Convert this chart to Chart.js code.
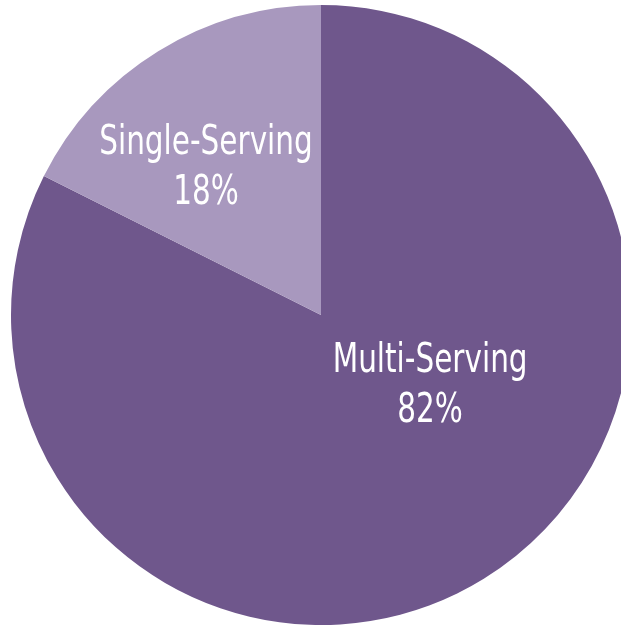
<!DOCTYPE html>
<html>
<head>
<meta charset="utf-8">
<script src="https://cdn.jsdelivr.net/npm/chart.js@4/dist/chart.umd.min.js"></script>
<style>
  html, body { margin: 0; padding: 0; background: #fff; overflow: hidden; }
  #wrap { position: absolute; left: 0; top: 0; width: 642px; height: 630px; }
</style>
</head>
<body>
<div id="wrap"><canvas id="pie"></canvas></div>
<script>
/* segment shares, clockwise from 12 o'clock (labels show them rounded) */
const categories = ["Multi-Serving", "Single-Serving"];
const shares = [82.4, 17.6];
const sliceColors = ["#6f578c", "#a898be"];

/* text placed inside each slice, offset from centre as a fraction of radius */
const labelSpots = [
  { dx: 0.352, dy: 0.184 },
  { dx: -0.371, dy: -0.519 },
];

const sliceLabels = {
  id: "sliceLabels",
  afterDatasetsDraw(chart) {
    const ctx = chart.ctx;
    const meta = chart.getDatasetMeta(0);
    const squeeze = 0.8; // condensed look
    meta.data.forEach((arc, i) => {
      const r = arc.outerRadius;
      const x = arc.x + labelSpots[i].dx * r;
      const y = arc.y + labelSpots[i].dy * r;
      ctx.save();
      ctx.fillStyle = "#ffffff";
      ctx.textAlign = "center";
      ctx.textBaseline = "alphabetic";
      ctx.font = '41px "DejaVu Sans Condensed", "DejaVu Sans", sans-serif';
      ctx.translate(x, y);
      ctx.scale(squeeze, 1);
      ctx.fillText(categories[i], 0, 0);
      ctx.fillText(Math.round(shares[i]) + "%", 0, 50);
      ctx.restore();
    });
  },
};

new Chart(document.getElementById("pie"), {
  type: "pie",
  data: {
    labels: categories,
    datasets: [
      {
        data: shares,
        backgroundColor: sliceColors,
        borderWidth: 0,
      },
    ],
  },
  options: {
    responsive: true,
    maintainAspectRatio: false,
    animation: false,
    layout: { padding: 5 },
    plugins: {
      legend: { display: false },
      tooltip: { enabled: false },
    },
  },
  plugins: [sliceLabels],
});
</script>
</body>
</html>
